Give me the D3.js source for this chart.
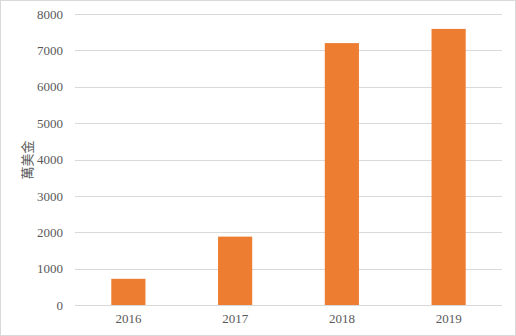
<!DOCTYPE html>
<html>
<head>
<meta charset="utf-8">
<script src="https://cdn.jsdelivr.net/npm/d3@7"></script>
<style>
  body { margin: 0; background: #fff; }
  svg text { font-family: "Liberation Serif", "Times New Roman", serif; fill: #595959; }
</style>
</head>
<body>
<svg id="chart" width="516" height="336"></svg>
<script>
var years = ['2016', '2017', '2018', '2019'];
var values = [720, 1880, 7200, 7590];
var yTicks = [0, 1000, 2000, 3000, 4000, 5000, 6000, 7000, 8000];

var svg = d3.select('#chart');
var margin = {left: 75, right: 14, top: 14, bottom: 31};
var width = 516 - margin.left - margin.right;
var height = 336 - margin.top - margin.bottom;

// outer border
svg.append('rect')
  .attr('x', 0.5).attr('y', 0.5)
  .attr('width', 515).attr('height', 335)
  .attr('fill', 'none').attr('stroke', '#d9d9d9');

var g = svg.append('g').attr('transform', 'translate(' + margin.left + ',' + margin.top + ')');

var x = d3.scaleBand().domain(years).range([0, width]).paddingInner(0.68).paddingOuter(0.34);
var y = d3.scaleLinear().domain([0, 8000]).range([height, 0]);

// gridlines
g.selectAll('.grid').data(yTicks).enter().append('line')
  .attr('x1', 0).attr('x2', width)
  .attr('y1', function(d) { return Math.round(y(d)) + 0.5; })
  .attr('y2', function(d) { return Math.round(y(d)) + 0.5; })
  .attr('stroke', '#d9d9d9');

// bars
g.selectAll('.bar').data(values).enter().append('rect')
  .attr('x', function(d, i) { return x(years[i]); })
  .attr('y', function(d) { return y(d); })
  .attr('width', x.bandwidth())
  .attr('height', function(d) { return height - y(d); })
  .attr('fill', '#ed7d31');

// y axis labels
var yAxis = d3.axisLeft(y).tickValues(yTicks).tickFormat(d3.format('d')).tickSize(0).tickPadding(12);
g.append('g').call(yAxis)
  .call(function(a) { a.select('.domain').remove(); })
  .selectAll('text')
  .style('font-size', '13px')
  .attr('fill', '#595959');

// x axis labels
var xAxis = d3.axisBottom(x).tickSize(0).tickPadding(9);
g.append('g').attr('transform', 'translate(0,' + height + ')').call(xAxis)
  .call(function(a) { a.select('.domain').remove(); })
  .selectAll('text')
  .style('font-size', '13px')
  .attr('fill', '#595959');

// y axis title
svg.append('text')
  .attr('transform', 'translate(32,160) rotate(-90)')
  .attr('text-anchor', 'middle')
  .style('font-family', '"Noto Sans CJK TC", sans-serif')
  .style('font-size', '13px')
  .text('萬美金');
</script>
</body>
</html>
